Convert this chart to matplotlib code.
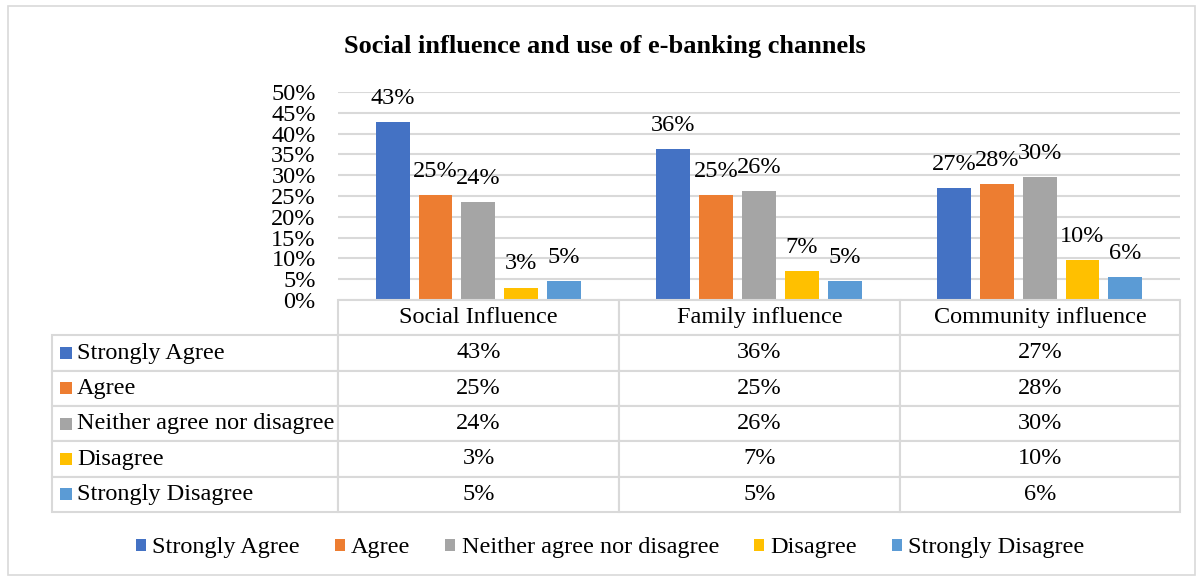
import numpy as np
import matplotlib.pyplot as plt
from matplotlib.patches import Patch, Rectangle

plt.rcParams['font.family'] = ['Liberation Serif', 'DejaVu Serif']

categories = ["Social Influence", "Family influence", "Community influence"]
series = ["Strongly Agree", "Agree", "Neither agree nor disagree", "Disagree", "Strongly Disagree"]
colors = ["#4472c4", "#ed7d31", "#a5a5a5", "#ffc000", "#5b9bd5"]

# bar heights (%), labels as printed
strongly_agree = [42.8, 36.3, 26.9]
agree = [25.3, 25.2, 27.9]
neither = [23.6, 26.2, 29.5]
disagree = [3.0, 6.9, 9.5]
strongly_disagree = [4.6, 4.6, 5.6]
values = [strongly_agree, agree, neither, disagree, strongly_disagree]
labels = [["43%", "36%", "27%"], ["25%", "25%", "28%"], ["24%", "26%", "30%"],
          ["3%", "7%", "10%"], ["5%", "5%", "6%"]]

yticks = list(range(0, 55, 5))

W, H = 1203, 581
FS = 17.5
fig = plt.figure(figsize=(W / 100, H / 100), dpi=100)
fig.patches.append(Rectangle((8 / W, 6 / H), 1 - 16 / W, 1 - 12 / H, transform=fig.transFigure,
                             fill=False, edgecolor="#d9d9d9", linewidth=1.2))

fig.text(605 / W, 1 - 47 / H, "Social influence and use of e-banking channels",
         ha="center", va="center", fontsize=19, fontweight="bold")

# bar chart
ax = fig.add_axes([338 / W, 1 - 300 / H, 842 / W, 208 / H])
x = np.arange(len(categories))
step = 0.1527
width = 0.1207
for i, (name, vals) in enumerate(zip(series, values)):
    pos = x + (i - 2) * step
    bars = ax.bar(pos, vals, width, color=colors[i], zorder=3)
    for b, v, lab in zip(bars, vals, labels[i]):
        ax.annotate(lab, (b.get_x() + b.get_width() / 2, v), xytext=(0, 17),
                    textcoords="offset points", ha="center", va="center", fontsize=FS)

ax.set_xlim(-0.5, 2.5)
ax.set_ylim(0, 50)
ax.set_yticks(yticks)
ax.set_yticklabels([f"{t}%" for t in yticks], fontsize=FS)
ax.set_xticks([])
ax.tick_params(axis="y", length=0, pad=16)
ax.grid(axis="y", color="#d9d9d9", linewidth=1.5, zorder=0)
for s in ax.spines.values():
    s.set_visible(False)

# data table below the bars
tax = fig.add_axes([52 / W, 1 - 512 / H, 1128 / W, 212 / H])
tax.axis("off")
cell_text = [[""] + categories]
for name, labs in zip(series, labels):
    cell_text.append([name] + labs)
col_w = [286, 281, 281, 280]
col_w = [c / sum(col_w) for c in col_w]
table = tax.table(cellText=cell_text, colWidths=col_w, cellLoc="center", bbox=[0, 0, 1, 1])
table.auto_set_font_size(False)
table.set_fontsize(FS)
for (r, c), cell in table.get_celld().items():
    cell.set_edgecolor("#d9d9d9")
    cell.set_linewidth(1.5)
    if r == 0 and c == 0:
        cell.visible_edges = ""
    if c == 0 and r > 0:
        cell._loc = "left"
        cell.PAD = 0.087
        cell.get_text().set_ha("left")

nrows = len(cell_text)
for i, col in enumerate(colors):
    tax.scatter([14 / 1128], [1 - (i + 1.5) / nrows], marker="s", s=72, color=col,
                transform=tax.transAxes, zorder=5, clip_on=False, linewidths=0)

handles = [Patch(facecolor=c) for c in colors]
fig.legend(handles, series, loc="center", bbox_to_anchor=(610 / W, 1 - 548 / H), ncol=5,
           frameon=False, fontsize=FS, handlelength=0.42, handleheight=0.42,
           handletextpad=0.25, columnspacing=1.44)

fig.savefig("out.png", dpi=100)
